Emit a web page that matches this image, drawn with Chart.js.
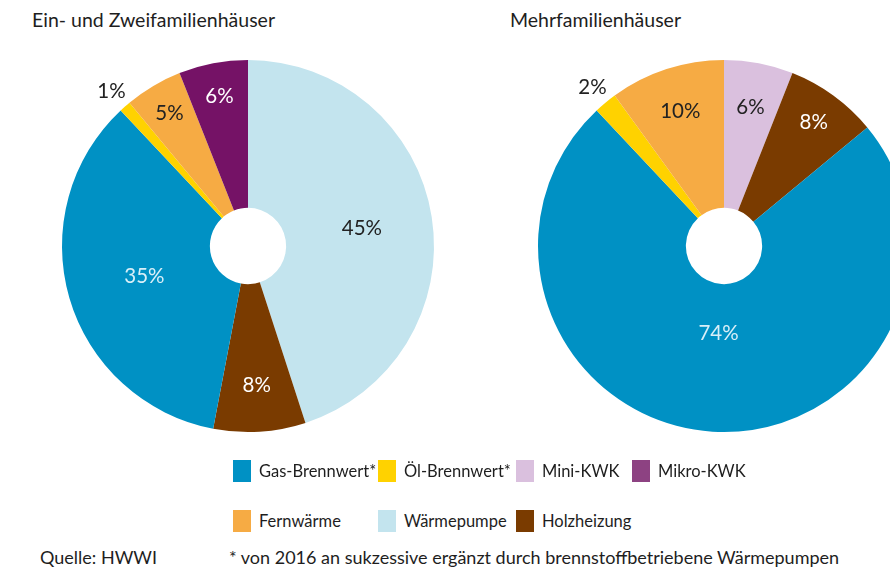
<!DOCTYPE html>
<html>
<head>
<meta charset="utf-8">
<script src="https://cdn.jsdelivr.net/npm/chart.js@4.4.1/dist/chart.umd.min.js"></script>
<style>
  html, body { margin: 0; padding: 0; background: #fff; overflow: hidden; }
  body { width: 890px; height: 569px; position: relative; font-family: Lato, "Open Sans", sans-serif; color: #1e1e1e; }
  .title { position: absolute; top: 8px; font-size: 19.5px; line-height: 24px; }
  canvas { position: absolute; }
  .key { position: absolute; font-size: 16.5px; line-height: 22px; }
  .key span { position: absolute; left: 0; top: 0; width: 18px; height: 22px; }
  .key b { font-weight: normal; position: absolute; left: 26px; top: 0; white-space: nowrap; }
  .note { position: absolute; font-size: 18px; line-height: 22px; }
</style>
</head>
<body>
<div class="title" style="left:32px">Ein- und Zweifamilienhäuser</div>
<div class="title" style="left:510px">Mehrfamilienhäuser</div>

<canvas id="ein-chart" width="450" height="450" style="left:23px;top:21px"></canvas>
<canvas id="mehr-chart" width="450" height="450" style="left:499px;top:21px"></canvas>

<div id="legend"></div>
<div class="note" style="left:40px;top:546px">Quelle: HWWI</div>
<div class="note" style="left:229px;top:546px">* von 2016 an sukzessive ergänzt durch brennstoffbetriebene Wärmepumpen</div>

<script>
const einLabels = ["Wärmepumpe", "Holzheizung", "Gas-Brennwert*", "Öl-Brennwert*", "Fernwärme", "Mikro-KWK"]
const einValues = [45, 8, 35, 1, 5, 6]

const mehrLabels = ["Mini-KWK", "Holzheizung", "Gas-Brennwert*", "Öl-Brennwert*", "Fernwärme"]
const mehrValues = [6, 8, 74, 2, 10]

const legendOrder = ["Gas-Brennwert*", "Öl-Brennwert*", "Mini-KWK", "Mikro-KWK", "Fernwärme", "Wärmepumpe", "Holzheizung"]

const colors = {
    "Gas-Brennwert*": "#0091c4",
    "Öl-Brennwert*": "#ffd200",
    "Mini-KWK": "#dac0de",
    "Mikro-KWK": "#751266",
    "Fernwärme": "#f6ab44",
    "Wärmepumpe": "#c3e4ee",
    "Holzheizung": "#7a3b00"
}
// legend swatch for Mikro-KWK is a lighter purple than the slice
const keyColors = Object.assign({}, colors, { "Mikro-KWK": "#8d4282" })

const textColors = {
    "Gas-Brennwert*": "#d9eff8",
    "Öl-Brennwert*": "#222",
    "Mini-KWK": "#222",
    "Mikro-KWK": "#fff",
    "Fernwärme": "#222",
    "Wärmepumpe": "#222",
    "Holzheizung": "#fff"
}

// how far out (fraction of the radius) each percentage sits
const einLabelPos = [0.62, 0.75, 0.58, 1.11, 0.83, 0.82]
const mehrLabelPos = [0.76, 0.82, 0.47, 1.11, 0.76]

const percentLabels = {
    id: "percentLabels",
    afterDatasetsDraw(chart, args, opts) {
        const ctx = chart.ctx
        const meta = chart.getDatasetMeta(0)
        const ds = chart.data.datasets[0]
        ctx.save()
        ctx.font = "20.5px Lato, 'Open Sans', sans-serif"
        ctx.textAlign = "center"
        ctx.textBaseline = "middle"
        meta.data.forEach((arc, i) => {
            const p = arc.getProps(["x", "y", "startAngle", "endAngle", "outerRadius"], true)
            const mid = (p.startAngle + p.endAngle) / 2
            const r = p.outerRadius * opts.pos[i]
            ctx.fillStyle = textColors[chart.data.labels[i]]
            ctx.fillText(ds.data[i] + "%", p.x + Math.cos(mid) * r, p.y + Math.sin(mid) * r)
        })
        ctx.restore()
    }
}

function pieOptions(pos) {
    return {
        responsive: false,
        animation: false,
        cutout: "20.5%",
        layout: { padding: 39 },
        plugins: {
            legend: { display: false },
            tooltip: { enabled: false },
            percentLabels: { pos: pos }
        }
    }
}

new Chart("ein-chart", {
    type: "doughnut",
    data: {
        labels: einLabels,
        datasets: [{
            data: einValues,
            backgroundColor: einLabels.map(l => colors[l]),
            borderWidth: 0
        }]
    },
    options: pieOptions(einLabelPos),
    plugins: [percentLabels]
})

new Chart("mehr-chart", {
    type: "doughnut",
    data: {
        labels: mehrLabels,
        datasets: [{
            data: mehrValues,
            backgroundColor: mehrLabels.map(l => colors[l]),
            borderWidth: 0
        }]
    },
    options: pieOptions(mehrLabelPos),
    plugins: [percentLabels]
})

// legend, two rows
const keyX = [233, 378, 516, 632]
const keyY = [460, 510]
const legend = document.getElementById("legend")
legendOrder.forEach((name, i) => {
    const d = document.createElement("div")
    d.className = "key"
    d.style.left = keyX[i % 4] + "px"
    d.style.top = keyY[Math.floor(i / 4)] + "px"
    d.innerHTML = '<span style="background:' + keyColors[name] + '"></span><b>' + name + '</b>'
    legend.appendChild(d)
})
</script>
</body>
</html>
